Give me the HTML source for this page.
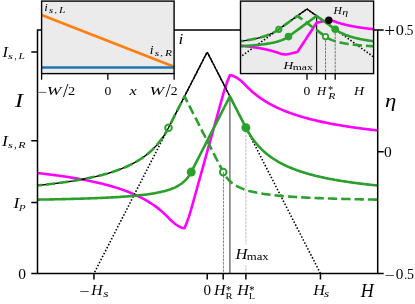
<!DOCTYPE html>
<html><head><meta charset="utf-8"><title>figure</title>
<style>html,body{margin:0;padding:0;background:#fff;}body{width:415px;height:304px;overflow:hidden;font-family:"Liberation Serif",serif;}svg{display:block;}</style>
</head><body>
<svg width="415" height="304" viewBox="0 0 415 304">
<defs>
<clipPath id="cm"><rect x="37.5" y="29.9" width="340.2" height="243.6"/></clipPath>
<clipPath id="ci"><rect x="240.5" y="1.1" width="133.10000000000002" height="72.5"/></clipPath>
</defs>
<rect width="415" height="304" fill="#fff"/>
<g clip-path="url(#cm)" fill="none" stroke-linejoin="round">
<line x1="229.89999999999998" y1="96.40" x2="229.89999999999998" y2="273.5" stroke="#6c6c6c" stroke-width="1.4"/>
<line x1="245.89999999999998" y1="127.69" x2="245.89999999999998" y2="273.5" stroke="#a8a8a8" stroke-width="0.8" stroke-dasharray="2.6,1.0"/>
<path d="M37.50,173.05 L38.64,173.18 L39.78,173.31 L40.91,173.43 L42.05,173.57 L43.19,173.70 L44.33,173.83 L45.46,173.97 L46.60,174.11 L47.74,174.24 L48.88,174.39 L50.02,174.53 L51.15,174.67 L52.29,174.82 L53.43,174.97 L54.57,175.12 L55.70,175.27 L56.84,175.42 L57.98,175.58 L59.12,175.74 L60.26,175.90 L61.39,176.06 L62.53,176.22 L63.67,176.39 L64.81,176.56 L65.94,176.73 L67.08,176.90 L68.22,177.08 L69.36,177.26 L70.50,177.44 L71.63,177.62 L72.77,177.81 L73.91,178.00 L75.05,178.19 L76.18,178.39 L77.32,178.58 L78.46,178.78 L79.60,178.99 L80.74,179.19 L81.87,179.40 L83.01,179.62 L84.15,179.83 L85.29,180.05 L86.43,180.28 L87.56,180.50 L88.70,180.73 L89.84,180.97 L90.98,181.20 L92.11,181.45 L93.25,181.69 L94.39,181.94 L95.53,182.20 L96.67,182.45 L97.80,182.72 L98.94,182.98 L100.08,183.26 L101.22,183.53 L102.35,183.81 L103.49,184.10 L104.63,184.39 L105.77,184.69 L106.91,184.99 L108.04,185.30 L109.18,185.61 L110.32,185.93 L111.46,186.26 L112.59,186.59 L113.73,186.93 L114.87,187.27 L116.01,187.63 L117.15,187.99 L118.28,188.35 L119.42,188.73 L120.56,189.11 L121.70,189.50 L122.83,189.89 L123.97,190.30 L125.11,190.71 L126.25,191.14 L127.39,191.57 L128.52,192.01 L129.66,192.47 L130.80,192.93 L131.94,193.40 L133.07,193.89 L134.21,194.38 L135.35,194.89 L136.49,195.41 L137.63,195.94 L138.76,196.49 L139.90,197.05 L141.04,197.62 L142.18,198.21 L143.31,198.81 L144.45,199.43 L145.59,200.07 L146.73,200.72 L147.87,201.39 L149.00,202.08 L150.14,202.79 L151.28,203.52 L152.42,204.27 L153.55,205.04 L154.69,205.84 L155.83,206.66 L156.97,207.50 L158.11,208.37 L159.24,209.27 L160.38,210.20 L161.52,211.15 L162.66,212.14 L163.79,213.17 L164.93,214.23 L166.07,215.32 L167.21,216.46 L168.35,217.63 L168.50,217.79 L169.48,218.83 L170.62,219.97 L171.76,221.06 L172.90,222.08 L174.04,223.04 L175.17,223.94 L176.31,224.76 L177.45,225.52 L178.59,226.19 L179.72,226.79 L180.86,227.29 L182.00,227.70 L183.14,228.01 L184.28,228.20 L184.50,228.22 L185.41,226.04 L186.55,223.17 L187.69,220.11 L188.83,216.84 L189.96,213.31 L191.10,209.49 L191.20,209.14 L192.24,205.41 L193.38,201.33 L194.52,197.24 L195.65,193.16 L196.79,189.07 L197.93,184.99 L199.07,180.90 L200.20,176.82 L201.34,172.73 L202.48,168.65 L203.62,164.56 L204.76,160.48 L205.89,156.39 L207.03,152.31 L207.20,151.70 L208.17,148.22 L209.31,144.14 L210.44,140.05 L211.58,135.97 L212.72,131.88 L213.86,127.80 L215.00,123.71 L216.13,119.63 L217.27,115.54 L218.41,111.46 L219.55,107.37 L220.68,103.29 L221.82,99.20 L222.96,95.12 L223.20,94.26 L224.10,91.19 L225.24,87.58 L226.37,84.24 L227.51,81.12 L228.65,78.19 L229.79,75.44 L229.90,75.18 L230.92,75.32 L232.06,75.60 L233.20,75.98 L234.34,76.46 L235.48,77.02 L236.61,77.68 L237.75,78.41 L238.89,79.21 L240.03,80.09 L241.16,81.03 L242.30,82.03 L243.44,83.10 L244.58,84.22 L245.72,85.41 L245.90,85.61 L246.85,86.60 L247.99,87.75 L249.13,88.85 L250.27,89.92 L251.41,90.96 L252.54,91.96 L253.68,92.92 L254.82,93.86 L255.96,94.77 L257.09,95.64 L258.23,96.50 L259.37,97.32 L260.51,98.13 L261.65,98.90 L262.78,99.66 L263.92,100.40 L265.06,101.11 L266.20,101.81 L267.33,102.48 L268.47,103.14 L269.61,103.78 L270.75,104.40 L271.89,105.01 L273.02,105.61 L274.16,106.18 L275.30,106.75 L276.44,107.30 L277.57,107.83 L278.71,108.36 L279.85,108.87 L280.99,109.37 L282.13,109.85 L283.26,110.33 L284.40,110.80 L285.54,111.25 L286.68,111.70 L287.81,112.13 L288.95,112.56 L290.09,112.98 L291.23,113.39 L292.37,113.79 L293.50,114.18 L294.64,114.56 L295.78,114.94 L296.92,115.31 L298.05,115.67 L299.19,116.02 L300.33,116.37 L301.47,116.71 L302.61,117.04 L303.74,117.37 L304.88,117.69 L306.02,118.01 L307.16,118.32 L308.29,118.62 L309.43,118.92 L310.57,119.21 L311.71,119.50 L312.85,119.78 L313.98,120.06 L315.12,120.34 L316.26,120.60 L317.40,120.87 L318.53,121.13 L319.67,121.38 L320.81,121.63 L321.95,121.88 L323.09,122.12 L324.22,122.36 L325.36,122.60 L326.50,122.83 L327.64,123.06 L328.77,123.28 L329.91,123.50 L331.05,123.72 L332.19,123.93 L333.33,124.14 L334.46,124.35 L335.60,124.56 L336.74,124.76 L337.88,124.96 L339.02,125.15 L340.15,125.34 L341.29,125.53 L342.43,125.72 L343.57,125.91 L344.70,126.09 L345.84,126.27 L346.98,126.44 L348.12,126.62 L349.26,126.79 L350.39,126.96 L351.53,127.13 L352.67,127.29 L353.81,127.46 L354.94,127.62 L356.08,127.77 L357.22,127.93 L358.36,128.09 L359.50,128.24 L360.63,128.39 L361.77,128.54 L362.91,128.68 L364.05,128.83 L365.18,128.97 L366.32,129.11 L367.46,129.25 L368.60,129.39 L369.74,129.53 L370.87,129.66 L372.01,129.80 L373.15,129.93 L374.29,130.06 L375.42,130.18 L376.56,130.31 L377.70,130.44" stroke="#ff00ff" stroke-width="2.6" stroke-linejoin="round"/>
<path d="M93.94999999999999,273.5 L207.2,52.0" stroke="#000" stroke-width="1.6" stroke-dasharray="1.5,1.84" stroke-dashoffset="1.75"/>
<path d="M207.2,52.0 L320.45,273.5" stroke="#000" stroke-width="1.6" stroke-dasharray="1.5,1.84" stroke-dashoffset="0.02"/>
<path d="M37.50,185.44 L38.64,185.32 L39.78,185.21 L40.91,185.09 L42.05,184.97 L43.19,184.85 L44.33,184.72 L45.46,184.60 L46.60,184.47 L47.74,184.34 L48.88,184.21 L50.02,184.08 L51.15,183.95 L52.29,183.81 L53.43,183.67 L54.57,183.53 L55.70,183.39 L56.84,183.25 L57.98,183.10 L59.12,182.95 L60.26,182.80 L61.39,182.64 L62.53,182.49 L63.67,182.33 L64.81,182.17 L65.94,182.00 L67.08,181.84 L68.22,181.67 L69.36,181.50 L70.50,181.32 L71.63,181.14 L72.77,180.96 L73.91,180.78 L75.05,180.59 L76.18,180.40 L77.32,180.21 L78.46,180.01 L79.60,179.81 L80.74,179.61 L81.87,179.40 L83.01,179.19 L84.15,178.97 L85.29,178.75 L86.43,178.53 L87.56,178.30 L88.70,178.07 L89.84,177.83 L90.98,177.59 L92.11,177.34 L93.25,177.09 L94.39,176.84 L95.53,176.58 L96.67,176.31 L97.80,176.04 L98.94,175.76 L100.08,175.47 L101.22,175.18 L102.35,174.89 L103.49,174.58 L104.63,174.27 L105.77,173.96 L106.91,173.63 L108.04,173.30 L109.18,172.96 L110.32,172.62 L111.46,172.26 L112.59,171.90 L113.73,171.53 L114.87,171.14 L116.01,170.75 L117.15,170.35 L118.28,169.94 L119.42,169.52 L120.56,169.09 L121.70,168.64 L122.83,168.18 L123.97,167.71 L125.11,167.23 L126.25,166.74 L127.39,166.23 L128.52,165.70 L129.66,165.16 L130.80,164.61 L131.94,164.03 L133.07,163.44 L134.21,162.83 L135.35,162.21 L136.49,161.56 L137.63,160.89 L138.76,160.20 L139.90,159.48 L141.04,158.74 L142.18,157.98 L143.31,157.18 L144.45,156.36 L145.59,155.51 L146.73,154.62 L147.87,153.71 L149.00,152.75 L150.14,151.76 L151.28,150.73 L152.42,149.65 L153.55,148.53 L154.69,147.36 L155.83,146.14 L156.97,144.87 L158.11,143.53 L159.24,142.13 L160.38,140.66 L161.52,139.12 L162.66,137.50 L163.79,135.80 L164.93,134.01 L166.07,132.11 L167.21,130.11 L168.35,127.99 L168.50,127.69 L169.48,125.77 L170.62,123.54 L171.76,121.32 L172.90,119.09 L174.04,116.87 L175.17,114.64 L176.31,112.41 L177.45,110.19 L178.59,107.96 L179.72,105.74 L180.86,103.51 L182.00,101.29 L183.14,99.06 L184.28,96.84 L184.50,96.40 L185.41,94.61 L186.55,92.39 L187.69,90.16 L188.83,87.94 L189.96,85.71 L191.10,83.49 L191.20,83.29 L192.24,81.26 L193.38,79.03 L194.52,76.81 L195.65,74.58 L196.79,72.36 L197.93,70.13 L199.07,67.91 L200.20,65.68 L201.34,63.46 L202.48,61.23 L203.62,59.01 L204.76,56.78 L205.89,54.56 L207.03,52.80 L207.20,52.80 L208.17,53.90 L209.31,56.12 L210.44,58.35 L211.58,60.57 L212.72,62.80 L213.86,65.02 L215.00,67.25 L216.13,69.47 L217.27,71.70 L218.41,73.92 L219.55,76.15 L220.68,78.37 L221.82,80.60 L222.96,82.82 L223.20,83.29 L224.10,85.05 L225.24,87.28 L226.37,89.50 L227.51,91.73 L228.65,93.95 L229.79,96.18 L229.90,96.40 L230.92,98.40 L232.06,100.63 L233.20,102.85 L234.34,105.08 L235.48,107.30 L236.61,109.53 L237.75,111.75 L238.89,113.98 L240.03,116.20 L241.16,118.43 L242.30,120.66 L243.44,122.88 L244.58,125.11 L245.72,127.33 L245.90,127.69 L246.85,129.49 L247.99,131.53 L249.13,133.45 L250.27,135.28 L251.41,137.01 L252.54,138.65 L253.68,140.21 L254.82,141.70 L255.96,143.12 L257.09,144.48 L258.23,145.77 L259.37,147.01 L260.51,148.19 L261.65,149.33 L262.78,150.41 L263.92,151.46 L265.06,152.46 L266.20,153.43 L267.33,154.36 L268.47,155.25 L269.61,156.11 L270.75,156.94 L271.89,157.74 L273.02,158.52 L274.16,159.26 L275.30,159.99 L276.44,160.69 L277.57,161.36 L278.71,162.02 L279.85,162.65 L280.99,163.26 L282.13,163.86 L283.26,164.44 L284.40,165.00 L285.54,165.54 L286.68,166.07 L287.81,166.59 L288.95,167.09 L290.09,167.57 L291.23,168.05 L292.37,168.51 L293.50,168.95 L294.64,169.39 L295.78,169.82 L296.92,170.23 L298.05,170.63 L299.19,171.03 L300.33,171.41 L301.47,171.79 L302.61,172.15 L303.74,172.51 L304.88,172.86 L306.02,173.20 L307.16,173.54 L308.29,173.86 L309.43,174.18 L310.57,174.49 L311.71,174.80 L312.85,175.10 L313.98,175.39 L315.12,175.67 L316.26,175.95 L317.40,176.23 L318.53,176.50 L319.67,176.76 L320.81,177.02 L321.95,177.27 L323.09,177.52 L324.22,177.76 L325.36,178.00 L326.50,178.23 L327.64,178.46 L328.77,178.69 L329.91,178.91 L331.05,179.12 L332.19,179.34 L333.33,179.55 L334.46,179.75 L335.60,179.95 L336.74,180.15 L337.88,180.35 L339.02,180.54 L340.15,180.72 L341.29,180.91 L342.43,181.09 L343.57,181.27 L344.70,181.45 L345.84,181.62 L346.98,181.79 L348.12,181.96 L349.26,182.12 L350.39,182.28 L351.53,182.44 L352.67,182.60 L353.81,182.75 L354.94,182.90 L356.08,183.05 L357.22,183.20 L358.36,183.35 L359.50,183.49 L360.63,183.63 L361.77,183.77 L362.91,183.91 L364.05,184.04 L365.18,184.17 L366.32,184.31 L367.46,184.44 L368.60,184.56 L369.74,184.69 L370.87,184.81 L372.01,184.93 L373.15,185.05 L374.29,185.17 L375.42,185.29 L376.56,185.41 L377.70,185.52" stroke="#000" stroke-width="1.4"/>
<path d="M37.50,199.63 L38.64,199.61 L39.78,199.59 L40.91,199.57 L42.05,199.55 L43.19,199.53 L44.33,199.51 L45.46,199.49 L46.60,199.47 L47.74,199.45 L48.88,199.43 L50.02,199.40 L51.15,199.38 L52.29,199.36 L53.43,199.34 L54.57,199.31 L55.70,199.29 L56.84,199.26 L57.98,199.24 L59.12,199.21 L60.26,199.19 L61.39,199.16 L62.53,199.14 L63.67,199.11 L64.81,199.08 L65.94,199.06 L67.08,199.03 L68.22,199.00 L69.36,198.97 L70.50,198.94 L71.63,198.91 L72.77,198.88 L73.91,198.85 L75.05,198.82 L76.18,198.79 L77.32,198.75 L78.46,198.72 L79.60,198.69 L80.74,198.65 L81.87,198.62 L83.01,198.58 L84.15,198.55 L85.29,198.51 L86.43,198.47 L87.56,198.43 L88.70,198.39 L89.84,198.35 L90.98,198.31 L92.11,198.27 L93.25,198.23 L94.39,198.19 L95.53,198.14 L96.67,198.10 L97.80,198.05 L98.94,198.01 L100.08,197.96 L101.22,197.91 L102.35,197.86 L103.49,197.81 L104.63,197.76 L105.77,197.70 L106.91,197.65 L108.04,197.59 L109.18,197.54 L110.32,197.48 L111.46,197.42 L112.59,197.36 L113.73,197.29 L114.87,197.23 L116.01,197.16 L117.15,197.10 L118.28,197.03 L119.42,196.96 L120.56,196.88 L121.70,196.81 L122.83,196.73 L123.97,196.65 L125.11,196.57 L126.25,196.49 L127.39,196.40 L128.52,196.32 L129.66,196.22 L130.80,196.13 L131.94,196.04 L133.07,195.94 L134.21,195.83 L135.35,195.73 L136.49,195.62 L137.63,195.51 L138.76,195.39 L139.90,195.27 L141.04,195.15 L142.18,195.02 L143.31,194.88 L144.45,194.75 L145.59,194.60 L146.73,194.45 L147.87,194.30 L149.00,194.14 L150.14,193.97 L151.28,193.80 L152.42,193.62 L153.55,193.43 L154.69,193.23 L155.83,193.03 L156.97,192.81 L158.11,192.59 L159.24,192.35 L160.38,192.11 L161.52,191.85 L162.66,191.58 L163.79,191.29 L164.93,190.99 L166.07,190.67 L167.21,190.33 L168.35,189.98 L168.50,189.93 L169.48,189.60 L170.62,189.20 L171.76,188.77 L172.90,188.32 L174.04,187.83 L175.17,187.31 L176.31,186.75 L177.45,186.15 L178.59,185.50 L179.72,184.79 L180.86,184.03 L182.00,183.19 L183.14,182.28 L184.28,181.28 L184.50,181.07 L185.41,180.17 L186.55,178.94 L187.69,177.56 L188.83,176.02 L189.96,174.27 L191.10,172.27 L191.20,172.09 L192.24,170.06 L193.38,167.83 L194.52,165.60 L195.65,163.38 L196.79,161.15 L197.93,158.93 L199.07,156.70 L200.20,154.48 L201.34,152.25 L202.48,150.03 L203.62,147.80 L204.76,145.58 L205.89,143.35 L207.03,141.13 L207.20,140.80 L208.17,138.90 L209.31,136.68 L210.44,134.45 L211.58,132.22 L212.72,130.00 L213.86,127.77 L215.00,125.55 L216.13,123.32 L217.27,121.10 L218.41,118.87 L219.55,116.65 L220.68,114.42 L221.82,112.20 L222.96,109.97 L223.20,109.50 L224.10,107.75 L225.24,105.52 L226.37,103.29 L227.51,101.07 L228.65,98.84 L229.79,96.62 L229.90,96.40 L230.92,98.40 L232.06,100.63 L233.20,102.85 L234.34,105.08 L235.48,107.30 L236.61,109.53 L237.75,111.75 L238.89,113.98 L240.03,116.20 L241.16,118.43 L242.30,120.66 L243.44,122.88 L244.58,125.11 L245.72,127.33 L245.90,127.69 L246.85,129.49 L247.99,131.53 L249.13,133.45 L250.27,135.28 L251.41,137.01 L252.54,138.65 L253.68,140.21 L254.82,141.70 L255.96,143.12 L257.09,144.48 L258.23,145.77 L259.37,147.01 L260.51,148.19 L261.65,149.33 L262.78,150.41 L263.92,151.46 L265.06,152.46 L266.20,153.43 L267.33,154.36 L268.47,155.25 L269.61,156.11 L270.75,156.94 L271.89,157.74 L273.02,158.52 L274.16,159.26 L275.30,159.99 L276.44,160.69 L277.57,161.36 L278.71,162.02 L279.85,162.65 L280.99,163.26 L282.13,163.86 L283.26,164.44 L284.40,165.00 L285.54,165.54 L286.68,166.07 L287.81,166.59 L288.95,167.09 L290.09,167.57 L291.23,168.05 L292.37,168.51 L293.50,168.95 L294.64,169.39 L295.78,169.82 L296.92,170.23 L298.05,170.63 L299.19,171.03 L300.33,171.41 L301.47,171.79 L302.61,172.15 L303.74,172.51 L304.88,172.86 L306.02,173.20 L307.16,173.54 L308.29,173.86 L309.43,174.18 L310.57,174.49 L311.71,174.80 L312.85,175.10 L313.98,175.39 L315.12,175.67 L316.26,175.95 L317.40,176.23 L318.53,176.50 L319.67,176.76 L320.81,177.02 L321.95,177.27 L323.09,177.52 L324.22,177.76 L325.36,178.00 L326.50,178.23 L327.64,178.46 L328.77,178.69 L329.91,178.91 L331.05,179.12 L332.19,179.34 L333.33,179.55 L334.46,179.75 L335.60,179.95 L336.74,180.15 L337.88,180.35 L339.02,180.54 L340.15,180.72 L341.29,180.91 L342.43,181.09 L343.57,181.27 L344.70,181.45 L345.84,181.62 L346.98,181.79 L348.12,181.96 L349.26,182.12 L350.39,182.28 L351.53,182.44 L352.67,182.60 L353.81,182.75 L354.94,182.90 L356.08,183.05 L357.22,183.20 L358.36,183.35 L359.50,183.49 L360.63,183.63 L361.77,183.77 L362.91,183.91 L364.05,184.04 L365.18,184.17 L366.32,184.31 L367.46,184.44 L368.60,184.56 L369.74,184.69 L370.87,184.81 L372.01,184.93 L373.15,185.05 L374.29,185.17 L375.42,185.29 L376.56,185.41 L377.70,185.52" stroke="#2ca02c" stroke-width="2.6" stroke-linejoin="round"/>
<path d="M37.50,185.44 L38.64,185.32 L39.78,185.21 L40.91,185.09 L42.05,184.97 L43.19,184.85 L44.33,184.72 L45.46,184.60 L46.60,184.47 L47.74,184.34 L48.88,184.21 L50.02,184.08 L51.15,183.95 L52.29,183.81 L53.43,183.67 L54.57,183.53 L55.70,183.39 L56.84,183.25 L57.98,183.10 L59.12,182.95 L60.26,182.80 L61.39,182.64 L62.53,182.49 L63.67,182.33 L64.81,182.17 L65.94,182.00 L67.08,181.84 L68.22,181.67 L69.36,181.50 L70.50,181.32 L71.63,181.14 L72.77,180.96 L73.91,180.78 L75.05,180.59 L76.18,180.40 L77.32,180.21 L78.46,180.01 L79.60,179.81 L80.74,179.61 L81.87,179.40 L83.01,179.19 L84.15,178.97 L85.29,178.75 L86.43,178.53 L87.56,178.30 L88.70,178.07 L89.84,177.83 L90.98,177.59 L92.11,177.34 L93.25,177.09 L94.39,176.84 L95.53,176.58 L96.67,176.31 L97.80,176.04 L98.94,175.76 L100.08,175.47 L101.22,175.18 L102.35,174.89 L103.49,174.58 L104.63,174.27 L105.77,173.96 L106.91,173.63 L108.04,173.30 L109.18,172.96 L110.32,172.62 L111.46,172.26 L112.59,171.90 L113.73,171.53 L114.87,171.14 L116.01,170.75 L117.15,170.35 L118.28,169.94 L119.42,169.52 L120.56,169.09 L121.70,168.64 L122.83,168.18 L123.97,167.71 L125.11,167.23 L126.25,166.74 L127.39,166.23 L128.52,165.70 L129.66,165.16 L130.80,164.61 L131.94,164.03 L133.07,163.44 L134.21,162.83 L135.35,162.21 L136.49,161.56 L137.63,160.89 L138.76,160.20 L139.90,159.48 L141.04,158.74 L142.18,157.98 L143.31,157.18 L144.45,156.36 L145.59,155.51 L146.73,154.62 L147.87,153.71 L149.00,152.75 L150.14,151.76 L151.28,150.73 L152.42,149.65 L153.55,148.53 L154.69,147.36 L155.83,146.14 L156.97,144.87 L158.11,143.53 L159.24,142.13 L160.38,140.66 L161.52,139.12 L162.66,137.50 L163.79,135.80 L164.93,134.01 L166.07,132.11 L167.21,130.11 L168.35,127.99 L168.50,127.69 L169.48,125.77 L170.62,123.54 L171.76,121.32 L172.90,119.09 L174.04,116.87 L175.17,114.64 L176.31,112.41 L177.45,110.19 L178.59,107.96 L179.72,105.74 L180.86,103.51 L182.00,101.29 L183.14,99.06 L184.28,96.84 L184.50,96.40 L185.41,98.18 L186.55,100.41 L187.69,102.63 L188.83,104.86 L189.96,107.08 L191.10,109.31 L191.20,109.50 L192.24,111.54 L193.38,113.76 L194.52,115.99 L195.65,118.21 L196.79,120.44 L197.93,122.66 L199.07,124.89 L200.20,127.11 L201.34,129.34 L202.48,131.56 L203.62,133.79 L204.76,136.01 L205.89,138.24 L207.03,140.47 L207.20,140.80 L208.17,142.69 L209.31,144.92 L210.44,147.14 L211.58,149.37 L212.72,151.59 L213.86,153.82 L215.00,156.04 L216.13,158.27 L217.27,160.49 L218.41,162.72 L219.55,164.94 L220.68,167.17 L221.82,169.39 L222.96,171.62 L223.20,172.09 L224.10,173.71 L225.24,175.52 L226.37,177.12 L227.51,178.54 L228.65,179.82 L229.79,180.96 L229.90,181.07 L230.92,181.99 L232.06,182.93 L233.20,183.79 L234.34,184.57 L235.48,185.29 L236.61,185.96 L237.75,186.57 L238.89,187.15 L240.03,187.68 L241.16,188.17 L242.30,188.64 L243.44,189.07 L244.58,189.48 L245.72,189.87 L245.90,189.93 L246.85,190.23 L247.99,190.57 L249.13,190.90 L250.27,191.20 L251.41,191.49 L252.54,191.77 L253.68,192.03 L254.82,192.28 L255.96,192.52 L257.09,192.75 L258.23,192.97 L259.37,193.17 L260.51,193.37 L261.65,193.56 L262.78,193.75 L263.92,193.92 L265.06,194.09 L266.20,194.25 L267.33,194.41 L268.47,194.56 L269.61,194.70 L270.75,194.84 L271.89,194.98 L273.02,195.11 L274.16,195.23 L275.30,195.35 L276.44,195.47 L277.57,195.59 L278.71,195.70 L279.85,195.80 L280.99,195.91 L282.13,196.01 L283.26,196.10 L284.40,196.20 L285.54,196.29 L286.68,196.38 L287.81,196.46 L288.95,196.55 L290.09,196.63 L291.23,196.71 L292.37,196.79 L293.50,196.86 L294.64,196.94 L295.78,197.01 L296.92,197.08 L298.05,197.14 L299.19,197.21 L300.33,197.28 L301.47,197.34 L302.61,197.40 L303.74,197.46 L304.88,197.52 L306.02,197.58 L307.16,197.63 L308.29,197.69 L309.43,197.74 L310.57,197.79 L311.71,197.84 L312.85,197.89 L313.98,197.94 L315.12,197.99 L316.26,198.04 L317.40,198.08 L318.53,198.13 L319.67,198.17 L320.81,198.22 L321.95,198.26 L323.09,198.30 L324.22,198.34 L325.36,198.38 L326.50,198.42 L327.64,198.46 L328.77,198.50 L329.91,198.53 L331.05,198.57 L332.19,198.61 L333.33,198.64 L334.46,198.68 L335.60,198.71 L336.74,198.74 L337.88,198.78 L339.02,198.81 L340.15,198.84 L341.29,198.87 L342.43,198.90 L343.57,198.93 L344.70,198.96 L345.84,198.99 L346.98,199.02 L348.12,199.05 L349.26,199.07 L350.39,199.10 L351.53,199.13 L352.67,199.16 L353.81,199.18 L354.94,199.21 L356.08,199.23 L357.22,199.26 L358.36,199.28 L359.50,199.31 L360.63,199.33 L361.77,199.35 L362.91,199.38 L364.05,199.40 L365.18,199.42 L366.32,199.44 L367.46,199.46 L368.60,199.49 L369.74,199.51 L370.87,199.53 L372.01,199.55 L373.15,199.57 L374.29,199.59 L375.42,199.61 L376.56,199.63 L377.70,199.65" stroke="#2ca02c" stroke-width="2.6" stroke-dasharray="9.32,4.03" stroke-dashoffset="4.90" stroke-linejoin="round"/>
</g>
<circle cx="191.2" cy="172.09" r="4.5" fill="#2ca02c"/>
<circle cx="245.89999999999998" cy="127.69" r="4.5" fill="#2ca02c"/>
<circle cx="223.2" cy="172.09" r="3.3" fill="#fff" stroke="#2ca02c" stroke-width="2.0"/>
<circle cx="168.5" cy="127.69" r="3.3" fill="#fff" stroke="#2ca02c" stroke-width="2.0"/>
<line x1="167.45" y1="129.74" x2="169.55" y2="125.64" stroke="#000" stroke-width="1.3"/>
<line x1="223.5" y1="172.09" x2="223.5" y2="273.5" stroke="#6a6a6a" stroke-width="0.8" stroke-dasharray="2.6,1.0"/>
<path d="M37.5,29.9 H377.7 V273.5 H37.5 Z" fill="none" stroke="#000" stroke-width="1.5"/>
<path d="M37.5,52.0 h-6.2 M37.5,140.7 h-6.2 M37.5,202.5 h-6.2 M37.5,273.5 h-6.2 M377.7,29.9 h6 M377.7,151.7 h6 M377.7,273.5 h6 M93.94999999999999,273.5 v6.0 M207.2,273.5 v6.0 M223.2,273.5 v6.0 M245.89999999999998,273.5 v6.0 M320.45,273.5 v6.0" stroke="#000" stroke-width="1.5" fill="none"/>
<rect x="41.6" y="1.1" width="132.5" height="72.5" fill="#ebebeb"/>
<line x1="41.6" y1="15" x2="174.1" y2="66.8" stroke="#ff7f0e" stroke-width="2.6"/>
<line x1="41.6" y1="67.5" x2="174.1" y2="67.5" stroke="#1f77b4" stroke-width="2.6"/>
<rect x="41.6" y="1.1" width="132.5" height="72.5" fill="none" stroke="#000" stroke-width="1.4"/>
<path d="M41.6,73.6 v6.1 M107.85,73.6 v6.1 M174.1,73.6 v6.1" stroke="#000" stroke-width="1.3"/>
<rect x="240.5" y="1.1" width="133.10000000000002" height="72.5" fill="#ebebeb"/>
<g clip-path="url(#ci)" fill="none">
<line x1="316.6" y1="15.91" x2="316.6" y2="73.6" stroke="#1c1c1c" stroke-width="1.25"/>
<line x1="325.5" y1="36.60" x2="325.5" y2="73.6" stroke="#505050" stroke-width="0.75" stroke-dasharray="2.6,1.0"/>
<line x1="335.2" y1="29.30" x2="335.2" y2="73.6" stroke="#505050" stroke-width="0.75" stroke-dasharray="2.6,1.0"/>
<path d="M207.0,81.0 L307.0,9.0" stroke="#000" stroke-width="1.6" stroke-dasharray="1.5,1.84" stroke-dashoffset="0"/>
<path d="M307.0,9.0 L407.0,81.0" stroke="#000" stroke-width="1.6" stroke-dasharray="1.5,1.84" stroke-dashoffset="0"/>
<path d="M240.50,41.22 L241.17,41.13 L241.84,41.04 L242.51,40.95 L243.18,40.86 L243.84,40.76 L244.51,40.66 L245.18,40.56 L245.85,40.46 L246.52,40.35 L247.19,40.24 L247.86,40.13 L248.53,40.02 L249.19,39.90 L249.86,39.79 L250.53,39.66 L251.20,39.54 L251.87,39.41 L252.54,39.28 L253.21,39.15 L253.88,39.01 L254.55,38.87 L255.21,38.73 L255.88,38.58 L256.55,38.43 L257.22,38.28 L257.89,38.12 L258.56,37.95 L259.23,37.78 L259.90,37.61 L260.57,37.43 L261.23,37.25 L261.90,37.06 L262.57,36.86 L263.24,36.66 L263.91,36.46 L264.58,36.24 L265.25,36.02 L265.92,35.79 L266.58,35.56 L267.25,35.32 L267.92,35.06 L268.59,34.80 L269.26,34.54 L269.93,34.26 L270.60,33.97 L271.27,33.67 L271.94,33.36 L272.60,33.03 L273.27,32.70 L273.94,32.35 L274.61,31.98 L275.28,31.60 L275.95,31.20 L276.62,30.79 L277.29,30.36 L277.96,29.91 L278.62,29.43 L278.80,29.30 L279.29,28.95 L279.96,28.47 L280.63,27.99 L281.30,27.50 L281.97,27.02 L282.64,26.54 L283.31,26.06 L283.97,25.58 L284.64,25.10 L285.31,24.61 L285.98,24.13 L286.65,23.65 L287.32,23.17 L287.99,22.69 L288.50,22.32 L288.66,22.21 L289.33,21.73 L289.99,21.24 L290.66,20.76 L291.33,20.28 L292.00,19.80 L292.67,19.32 L293.34,18.84 L294.01,18.35 L294.68,17.87 L295.35,17.39 L296.01,16.91 L296.68,16.43 L297.35,15.95 L297.40,15.91 L298.02,15.47 L298.69,14.98 L299.36,14.50 L300.03,14.02 L300.70,13.54 L301.36,13.06 L302.03,12.58 L302.70,12.09 L303.37,11.61 L304.04,11.13 L304.71,10.65 L305.38,10.17 L306.05,9.69 L306.72,9.20 L307.00,9.00 L307.38,9.28 L308.05,9.76 L308.72,10.24 L309.39,10.72 L310.06,11.20 L310.73,11.68 L311.40,12.17 L312.07,12.65 L312.74,13.13 L313.40,13.61 L314.07,14.09 L314.74,14.57 L315.41,15.06 L316.08,15.54 L316.60,15.91 L316.75,16.02 L317.42,16.50 L318.09,16.98 L318.75,17.46 L319.42,17.95 L320.09,18.43 L320.76,18.91 L321.43,19.39 L322.10,19.87 L322.77,20.35 L323.44,20.83 L324.11,21.32 L324.77,21.80 L325.44,22.28 L325.50,22.32 L326.11,22.76 L326.78,23.24 L327.45,23.72 L328.12,24.21 L328.79,24.69 L329.46,25.17 L330.13,25.65 L330.79,26.13 L331.46,26.61 L332.13,27.09 L332.80,27.58 L333.47,28.06 L334.14,28.54 L334.81,29.02 L335.20,29.30 L335.48,29.50 L336.14,29.97 L336.81,30.42 L337.48,30.85 L338.15,31.26 L338.82,31.66 L339.49,32.04 L340.16,32.40 L340.83,32.75 L341.50,33.08 L342.16,33.40 L342.83,33.71 L343.50,34.01 L344.17,34.30 L344.84,34.58 L345.51,34.84 L346.18,35.10 L346.85,35.35 L347.52,35.59 L348.18,35.83 L348.85,36.06 L349.52,36.27 L350.19,36.49 L350.86,36.69 L351.53,36.89 L352.20,37.09 L352.87,37.28 L353.53,37.46 L354.20,37.64 L354.87,37.81 L355.54,37.98 L356.21,38.14 L356.88,38.30 L357.55,38.45 L358.22,38.60 L358.89,38.75 L359.55,38.89 L360.22,39.03 L360.89,39.17 L361.56,39.30 L362.23,39.43 L362.90,39.56 L363.57,39.68 L364.24,39.80 L364.91,39.92 L365.57,40.04 L366.24,40.15 L366.91,40.26 L367.58,40.37 L368.25,40.47 L368.92,40.57 L369.59,40.67 L370.26,40.77 L370.92,40.87 L371.59,40.96 L372.26,41.06 L372.93,41.15 L373.60,41.24" stroke="#000" stroke-width="1.3"/>
<path d="M240.50,45.63 L241.17,45.70 L241.84,45.77 L242.51,45.84 L243.18,45.91 L243.84,45.99 L244.51,46.06 L245.18,46.14 L245.85,46.22 L246.52,46.30 L247.19,46.38 L247.86,46.46 L248.53,46.54 L249.19,46.63 L249.86,46.72 L250.53,46.80 L251.20,46.89 L251.87,46.99 L252.54,47.08 L253.21,47.18 L253.88,47.27 L254.55,47.37 L255.21,47.48 L255.88,47.58 L256.55,47.68 L257.22,47.79 L257.89,47.90 L258.56,48.02 L259.23,48.13 L259.90,48.25 L260.57,48.37 L261.23,48.49 L261.90,48.62 L262.57,48.75 L263.24,48.88 L263.91,49.01 L264.58,49.15 L265.25,49.29 L265.92,49.44 L266.58,49.59 L267.25,49.74 L267.92,49.89 L268.59,50.05 L269.26,50.22 L269.93,50.39 L270.60,50.56 L271.27,50.74 L271.94,50.92 L272.60,51.11 L273.27,51.30 L273.94,51.50 L274.61,51.70 L275.28,51.91 L275.95,52.13 L276.62,52.35 L277.29,52.58 L277.96,52.82 L278.62,53.06 L278.80,53.13 L279.29,53.30 L279.96,53.51 L280.63,53.71 L281.30,53.88 L281.97,54.04 L282.64,54.17 L283.31,54.28 L283.97,54.36 L284.64,54.41 L285.31,54.44 L285.98,54.43 L286.65,54.39 L287.32,54.32 L287.99,54.21 L288.50,54.10 L288.66,54.06 L289.33,53.89 L289.99,53.72 L290.66,53.55 L291.33,53.39 L292.00,53.23 L292.67,53.08 L293.34,52.92 L294.01,52.77 L294.68,52.63 L295.35,52.48 L296.01,52.34 L296.68,52.20 L297.35,52.06 L297.40,52.05 L298.02,51.10 L298.69,50.08 L299.36,49.06 L300.03,48.04 L300.70,47.02 L301.36,46.00 L302.03,44.98 L302.70,43.96 L303.37,42.94 L304.04,41.92 L304.71,40.90 L305.38,39.88 L306.05,38.85 L306.72,37.83 L307.00,37.40 L307.38,36.81 L308.05,35.79 L308.72,34.77 L309.39,33.75 L310.06,32.73 L310.73,31.71 L311.40,30.69 L312.07,29.67 L312.74,28.65 L313.40,27.63 L314.07,26.61 L314.74,25.58 L315.41,24.56 L316.08,23.54 L316.60,22.75 L316.75,22.72 L317.42,22.58 L318.09,22.44 L318.75,22.30 L319.42,22.15 L320.09,22.00 L320.76,21.85 L321.43,21.70 L322.10,21.54 L322.77,21.38 L323.44,21.22 L324.11,21.06 L324.77,20.89 L325.44,20.72 L325.50,20.70 L326.11,20.57 L326.78,20.47 L327.45,20.40 L328.12,20.37 L328.79,20.37 L329.46,20.40 L330.13,20.45 L330.79,20.54 L331.46,20.65 L332.13,20.78 L332.80,20.94 L333.47,21.12 L334.14,21.32 L334.81,21.54 L335.20,21.67 L335.48,21.78 L336.14,22.02 L336.81,22.26 L337.48,22.48 L338.15,22.71 L338.82,22.92 L339.49,23.13 L340.16,23.33 L340.83,23.53 L341.50,23.72 L342.16,23.91 L342.83,24.09 L343.50,24.27 L344.17,24.44 L344.84,24.61 L345.51,24.77 L346.18,24.93 L346.85,25.08 L347.52,25.24 L348.18,25.38 L348.85,25.53 L349.52,25.67 L350.19,25.81 L350.86,25.94 L351.53,26.07 L352.20,26.20 L352.87,26.33 L353.53,26.45 L354.20,26.57 L354.87,26.69 L355.54,26.80 L356.21,26.91 L356.88,27.02 L357.55,27.13 L358.22,27.24 L358.89,27.34 L359.55,27.44 L360.22,27.54 L360.89,27.64 L361.56,27.73 L362.23,27.83 L362.90,27.92 L363.57,28.01 L364.24,28.10 L364.91,28.18 L365.57,28.27 L366.24,28.35 L366.91,28.43 L367.58,28.52 L368.25,28.59 L368.92,28.67 L369.59,28.75 L370.26,28.82 L370.92,28.90 L371.59,28.97 L372.26,29.04 L372.93,29.11 L373.60,29.18" stroke="#ff00ff" stroke-width="2.6" stroke-linejoin="round"/>
<path d="M240.50,46.27 L241.17,46.23 L241.84,46.20 L242.51,46.16 L243.18,46.12 L243.84,46.07 L244.51,46.03 L245.18,45.99 L245.85,45.95 L246.52,45.90 L247.19,45.86 L247.86,45.81 L248.53,45.76 L249.19,45.71 L249.86,45.66 L250.53,45.61 L251.20,45.56 L251.87,45.50 L252.54,45.45 L253.21,45.39 L253.88,45.33 L254.55,45.27 L255.21,45.21 L255.88,45.15 L256.55,45.09 L257.22,45.02 L257.89,44.95 L258.56,44.88 L259.23,44.81 L259.90,44.74 L260.57,44.66 L261.23,44.58 L261.90,44.50 L262.57,44.42 L263.24,44.33 L263.91,44.25 L264.58,44.16 L265.25,44.06 L265.92,43.97 L266.58,43.87 L267.25,43.76 L267.92,43.66 L268.59,43.55 L269.26,43.43 L269.93,43.31 L270.60,43.19 L271.27,43.06 L271.94,42.93 L272.60,42.79 L273.27,42.65 L273.94,42.50 L274.61,42.35 L275.28,42.18 L275.95,42.02 L276.62,41.84 L277.29,41.66 L277.96,41.46 L278.62,41.26 L278.80,41.21 L279.29,41.05 L279.96,40.83 L280.63,40.60 L281.30,40.35 L281.97,40.10 L282.64,39.82 L283.31,39.54 L283.97,39.23 L284.64,38.91 L285.31,38.57 L285.98,38.21 L286.65,37.82 L287.32,37.40 L287.99,36.96 L288.50,36.60 L288.66,36.48 L289.33,35.99 L289.99,35.50 L290.66,35.01 L291.33,34.51 L292.00,34.02 L292.67,33.53 L293.34,33.04 L294.01,32.55 L294.68,32.05 L295.35,31.56 L296.01,31.07 L296.68,30.58 L297.35,30.08 L297.40,30.05 L298.02,29.59 L298.69,29.10 L299.36,28.61 L300.03,28.11 L300.70,27.62 L301.36,27.13 L302.03,26.64 L302.70,26.14 L303.37,25.65 L304.04,25.16 L304.71,24.67 L305.38,24.17 L306.05,23.68 L306.72,23.19 L307.00,22.98 L307.38,22.70 L308.05,22.20 L308.72,21.71 L309.39,21.22 L310.06,20.73 L310.73,20.23 L311.40,19.74 L312.07,19.25 L312.74,18.76 L313.40,18.26 L314.07,17.77 L314.74,17.28 L315.41,16.79 L316.08,16.30 L316.60,15.91 L316.75,16.02 L317.42,16.50 L318.09,16.98 L318.75,17.46 L319.42,17.95 L320.09,18.43 L320.76,18.91 L321.43,19.39 L322.10,19.87 L322.77,20.35 L323.44,20.83 L324.11,21.32 L324.77,21.80 L325.44,22.28 L325.50,22.32 L326.11,22.76 L326.78,23.24 L327.45,23.72 L328.12,24.21 L328.79,24.69 L329.46,25.17 L330.13,25.65 L330.79,26.13 L331.46,26.61 L332.13,27.09 L332.80,27.58 L333.47,28.06 L334.14,28.54 L334.81,29.02 L335.20,29.30 L335.48,29.50 L336.14,29.97 L336.81,30.42 L337.48,30.85 L338.15,31.26 L338.82,31.66 L339.49,32.04 L340.16,32.40 L340.83,32.75 L341.50,33.08 L342.16,33.40 L342.83,33.71 L343.50,34.01 L344.17,34.30 L344.84,34.58 L345.51,34.84 L346.18,35.10 L346.85,35.35 L347.52,35.59 L348.18,35.83 L348.85,36.06 L349.52,36.27 L350.19,36.49 L350.86,36.69 L351.53,36.89 L352.20,37.09 L352.87,37.28 L353.53,37.46 L354.20,37.64 L354.87,37.81 L355.54,37.98 L356.21,38.14 L356.88,38.30 L357.55,38.45 L358.22,38.60 L358.89,38.75 L359.55,38.89 L360.22,39.03 L360.89,39.17 L361.56,39.30 L362.23,39.43 L362.90,39.56 L363.57,39.68 L364.24,39.80 L364.91,39.92 L365.57,40.04 L366.24,40.15 L366.91,40.26 L367.58,40.37 L368.25,40.47 L368.92,40.57 L369.59,40.67 L370.26,40.77 L370.92,40.87 L371.59,40.96 L372.26,41.06 L372.93,41.15 L373.60,41.24" stroke="#2ca02c" stroke-width="2.6" stroke-linejoin="round"/>
<path d="M240.50,41.22 L241.17,41.13 L241.84,41.04 L242.51,40.95 L243.18,40.86 L243.84,40.76 L244.51,40.66 L245.18,40.56 L245.85,40.46 L246.52,40.35 L247.19,40.24 L247.86,40.13 L248.53,40.02 L249.19,39.90 L249.86,39.79 L250.53,39.66 L251.20,39.54 L251.87,39.41 L252.54,39.28 L253.21,39.15 L253.88,39.01 L254.55,38.87 L255.21,38.73 L255.88,38.58 L256.55,38.43 L257.22,38.28 L257.89,38.12 L258.56,37.95 L259.23,37.78 L259.90,37.61 L260.57,37.43 L261.23,37.25 L261.90,37.06 L262.57,36.86 L263.24,36.66 L263.91,36.46 L264.58,36.24 L265.25,36.02 L265.92,35.79 L266.58,35.56 L267.25,35.32 L267.92,35.06 L268.59,34.80 L269.26,34.54 L269.93,34.26 L270.60,33.97 L271.27,33.67 L271.94,33.36 L272.60,33.03 L273.27,32.70 L273.94,32.35 L274.61,31.98 L275.28,31.60 L275.95,31.20 L276.62,30.79 L277.29,30.36 L277.96,29.91 L278.62,29.43 L278.80,29.30 L279.29,28.95 L279.96,28.47 L280.63,27.99 L281.30,27.50 L281.97,27.02 L282.64,26.54 L283.31,26.06 L283.97,25.58 L284.64,25.10 L285.31,24.61 L285.98,24.13 L286.65,23.65 L287.32,23.17 L287.99,22.69 L288.50,22.32 L288.66,22.21 L289.33,21.73 L289.99,21.24 L290.66,20.76 L291.33,20.28 L292.00,19.80 L292.67,19.32 L293.34,18.84 L294.01,18.35 L294.68,17.87 L295.35,17.39 L296.01,16.91 L296.68,16.43 L297.35,15.95 L297.40,15.91 L298.02,16.37 L298.69,16.86 L299.36,17.35 L300.03,17.85 L300.70,18.34 L301.36,18.83 L302.03,19.32 L302.70,19.82 L303.37,20.31 L304.04,20.80 L304.71,21.29 L305.38,21.79 L306.05,22.28 L306.72,22.77 L307.00,22.98 L307.38,23.26 L308.05,23.76 L308.72,24.25 L309.39,24.74 L310.06,25.23 L310.73,25.72 L311.40,26.22 L312.07,26.71 L312.74,27.20 L313.40,27.69 L314.07,28.19 L314.74,28.68 L315.41,29.17 L316.08,29.66 L316.60,30.05 L316.75,30.16 L317.42,30.65 L318.09,31.14 L318.75,31.63 L319.42,32.13 L320.09,32.62 L320.76,33.11 L321.43,33.60 L322.10,34.10 L322.77,34.59 L323.44,35.08 L324.11,35.57 L324.77,36.07 L325.44,36.56 L325.50,36.60 L326.11,37.03 L326.78,37.47 L327.45,37.88 L328.12,38.26 L328.79,38.62 L329.46,38.96 L330.13,39.28 L330.79,39.58 L331.46,39.87 L332.13,40.14 L332.80,40.39 L333.47,40.63 L334.14,40.87 L334.81,41.08 L335.20,41.21 L335.48,41.29 L336.14,41.49 L336.81,41.68 L337.48,41.87 L338.15,42.04 L338.82,42.21 L339.49,42.37 L340.16,42.52 L340.83,42.67 L341.50,42.81 L342.16,42.95 L342.83,43.08 L343.50,43.21 L344.17,43.33 L344.84,43.45 L345.51,43.56 L346.18,43.67 L346.85,43.78 L347.52,43.88 L348.18,43.98 L348.85,44.08 L349.52,44.17 L350.19,44.26 L350.86,44.35 L351.53,44.43 L352.20,44.52 L352.87,44.60 L353.53,44.67 L354.20,44.75 L354.87,44.82 L355.54,44.89 L356.21,44.96 L356.88,45.03 L357.55,45.10 L358.22,45.16 L358.89,45.22 L359.55,45.28 L360.22,45.34 L360.89,45.40 L361.56,45.46 L362.23,45.51 L362.90,45.57 L363.57,45.62 L364.24,45.67 L364.91,45.72 L365.57,45.77 L366.24,45.82 L366.91,45.86 L367.58,45.91 L368.25,45.95 L368.92,46.00 L369.59,46.04 L370.26,46.08 L370.92,46.12 L371.59,46.16 L372.26,46.20 L372.93,46.24 L373.60,46.28" stroke="#2ca02c" stroke-width="2.6" stroke-dasharray="9.32,4.03" stroke-dashoffset="6.54" stroke-linejoin="round"/>
</g>
<circle cx="288.5" cy="36.60" r="3.8" fill="#2ca02c"/>
<circle cx="335.2" cy="29.30" r="3.8" fill="#2ca02c"/>
<circle cx="325.5" cy="36.60" r="2.7" fill="#fff" stroke="#2ca02c" stroke-width="1.8"/>
<circle cx="278.8" cy="29.30" r="2.7" fill="none" stroke="#2ca02c" stroke-width="1.8"/>
<circle cx="328.8" cy="20.2" r="3.7" fill="#000"/>
<rect x="240.5" y="1.1" width="133.10000000000002" height="72.5" fill="none" stroke="#000" stroke-width="1.4"/>
<path d="M307.0,73.6 v6.1 M325.5,73.6 v6.1 M335.2,73.6 v6.1" stroke="#000" stroke-width="1.3"/>
<g font-family="'Liberation Serif', serif" fill="#000" style="filter:grayscale(1)">
<text transform="translate(2.38,57.00) scale(1.169,1)" font-size="14.05" font-style="italic">I</text>
<text transform="translate(7.89,59.21) scale(1.450,1)" font-size="8.75" font-style="italic">s</text>
<text transform="translate(14.48,59.23) scale(0.858,1)" font-size="10.10">,</text>
<text transform="translate(18.59,59.20) scale(1.450,1)" font-size="7.94" font-style="italic">L</text>
<text transform="translate(1.99,145.70) scale(1.231,1)" font-size="14.20" font-style="italic">I</text>
<text transform="translate(7.94,147.61) scale(1.450,1)" font-size="8.54" font-style="italic">s</text>
<text transform="translate(13.90,147.63) scale(1.056,1)" font-size="10.10">,</text>
<text transform="translate(18.27,147.60) scale(1.450,1)" font-size="8.24" font-style="italic">R</text>
<text transform="translate(13.39,207.70) scale(1.245,1)" font-size="14.05" font-style="italic">I</text>
<text transform="translate(19.62,209.30) scale(1.400,1)" font-size="8.94" font-style="italic">p</text>
<text transform="translate(18.32,278.56) scale(1.092,1)" font-size="14.22">0</text>
<text transform="translate(384.33,36.81) scale(1.071,1)" font-size="18.06">+</text>
<text transform="translate(395.79,35.26) scale(1.166,1)" font-size="13.93">0</text>
<text transform="translate(404.34,35.12) scale(0.979,1)" font-size="11.91">.</text>
<text transform="translate(406.84,35.26) scale(0.932,1)" font-size="14.14">5</text>
<text transform="translate(384.02,156.56) scale(1.092,1)" font-size="14.22">0</text>
<text transform="translate(384.70,279.65) scale(1.290,1)" font-size="14.00">−</text>
<text transform="translate(395.73,278.76) scale(1.098,1)" font-size="13.93">0</text>
<text transform="translate(404.14,278.62) scale(0.979,1)" font-size="11.91">.</text>
<text transform="translate(406.90,278.76) scale(0.984,1)" font-size="14.14">5</text>
<text transform="translate(79.59,296.05) scale(1.306,1)" font-size="14.00">−</text>
<text transform="translate(91.26,295.10) scale(1.105,1)" font-size="14.20" font-style="italic">H</text>
<text transform="translate(103.13,296.51) scale(1.443,1)" font-size="9.38" font-style="italic">s</text>
<text transform="translate(203.44,295.36) scale(1.070,1)" font-size="14.07">0</text>
<text transform="translate(214.06,295.20) scale(1.135,1)" font-size="14.05" font-style="italic">H</text>
<text transform="translate(225.88,293.82) scale(0.852,1)" font-size="12.24">*</text>
<text transform="translate(225.61,298.70) scale(1.164,1)" font-size="9.16">R</text>
<text transform="translate(237.16,295.20) scale(1.154,1)" font-size="14.05" font-style="italic">H</text>
<text transform="translate(249.28,293.82) scale(0.852,1)" font-size="12.24">*</text>
<text transform="translate(249.03,298.70) scale(1.066,1)" font-size="9.16">L</text>
<text transform="translate(313.26,295.10) scale(1.141,1)" font-size="14.20" font-style="italic">H</text>
<text transform="translate(324.03,296.60) scale(1.381,1)" font-size="9.58" font-style="italic">s</text>
<text transform="translate(360.68,297.00) scale(0.936,1)" font-size="19.24" font-style="italic">H</text>
<text transform="translate(14.92,106.70) scale(1.243,1)" font-size="19.39" font-style="italic">I</text>
<text transform="translate(385.00,106.55) scale(1.228,1)" font-size="18.61" font-style="italic">η</text>
<rect x="232" y="244.3" width="39.5" height="21.2" fill="#fff"/>
<text transform="translate(235.47,258.80) scale(1.156,1)" font-size="14.35" font-style="italic">H</text>
<text transform="translate(246.74,259.90) scale(1.334,1)" font-size="9.58">max</text>
<text transform="translate(178.52,44.00) scale(1.150,1)" font-size="15.09" font-style="italic">i</text>
<text transform="translate(44.23,11.00) scale(1.150,1)" font-size="11.32" font-style="italic">i</text>
<text transform="translate(49.07,12.72) scale(1.345,1)" font-size="7.92" font-style="italic">s</text>
<text transform="translate(54.42,12.82) scale(1.120,1)" font-size="8.93">,</text>
<text transform="translate(58.99,12.80) scale(1.450,1)" font-size="7.94" font-style="italic">L</text>
<text transform="translate(149.83,54.10) scale(1.150,1)" font-size="11.92" font-style="italic">i</text>
<text transform="translate(154.66,55.72) scale(1.450,1)" font-size="7.92" font-style="italic">s</text>
<text transform="translate(160.30,55.82) scale(1.194,1)" font-size="8.93">,</text>
<text transform="translate(164.95,55.80) scale(1.450,1)" font-size="7.94" font-style="italic">R</text>
<text transform="translate(37.97,95.89) scale(1.380,1)" font-size="12.00">−</text>
<text transform="translate(46.85,94.92) scale(1.450,1)" font-size="12.09" font-style="italic">W</text>
<text transform="translate(63.00,97.41) scale(1.016,1)" font-size="18.81">/</text>
<text transform="translate(68.09,95.10) scale(1.179,1)" font-size="12.23">2</text>
<text transform="translate(104.39,95.37) scale(1.084,1)" font-size="12.59">0</text>
<text transform="translate(129.50,95.10) scale(1.309,1)" font-size="12.39" font-style="italic">x</text>
<text transform="translate(149.45,94.92) scale(1.450,1)" font-size="12.09" font-style="italic">W</text>
<text transform="translate(165.60,97.41) scale(0.996,1)" font-size="18.81">/</text>
<text transform="translate(170.72,95.10) scale(1.118,1)" font-size="12.23">2</text>
<text transform="translate(303.59,94.88) scale(1.110,1)" font-size="12.30">0</text>
<text transform="translate(316.93,94.90) scale(1.019,1)" font-size="12.37" font-style="italic">H</text>
<text transform="translate(327.88,92.97) scale(1.009,1)" font-size="10.34">*</text>
<text transform="translate(328.19,98.70) scale(1.450,1)" font-size="8.09" font-style="italic">R</text>
<text transform="translate(353.94,95.00) scale(1.110,1)" font-size="12.52" font-style="italic">H</text>
<text transform="translate(333.42,13.70) scale(1.068,1)" font-size="10.84" font-style="italic">H</text>
<text transform="translate(342.29,14.86) scale(1.450,1)" font-size="8.21" font-style="italic">η</text>
<text transform="translate(283.44,68.60) scale(1.212,1)" font-size="11.15" font-style="italic">H</text>
<text transform="translate(292.77,69.91) scale(1.265,1)" font-size="9.17">max</text>
</g>
</svg>
</body></html>
